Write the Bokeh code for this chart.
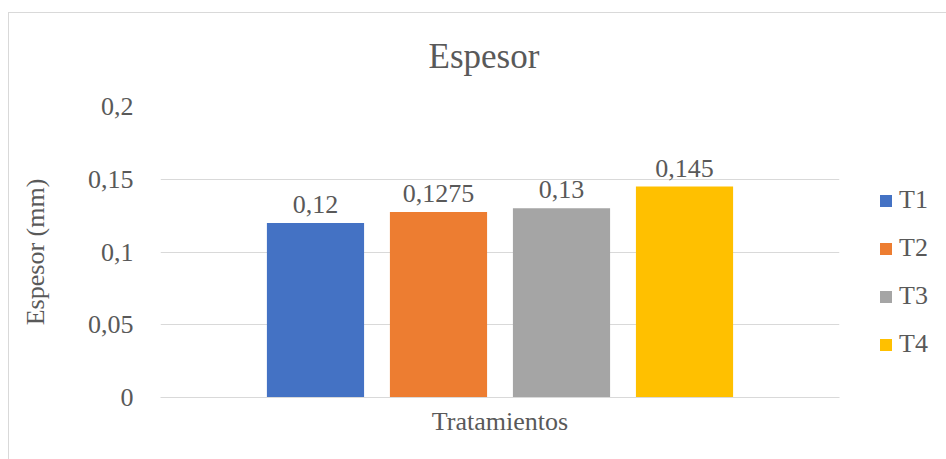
from bokeh.plotting import figure
from bokeh.models import (FactorRange, FixedTicker, Legend, LegendItem, LabelSet,
                          ColumnDataSource, Title)
from bokeh.embed import file_html
from bokeh.resources import INLINE

categories = ["T1", "T2", "T3", "T4"]
values = [0.12, 0.1275, 0.13, 0.145]
value_labels = ["0,12", "0,1275", "0,13", "0,145"]
colors = ["#4472C4", "#ED7D31", "#A5A5A5", "#FFC000"]
y_ticks = [0, 0.05, 0.1, 0.15, 0.2]
y_tick_labels = ["0", "0,05", "0,1", "0,15", "0,2"]
title_text = "Espesor"

FONT = "Liberation Serif"
TXT = "#595959"
GRID = "#d9d9d9"

src = ColumnDataSource(dict(cat=categories, val=values, lab=value_labels, color=colors))

p = figure(frame_width=679, frame_height=291, margin=(12, 0, 0, 8), title=None,
           x_range=FactorRange(*categories, range_padding=0.76, range_padding_units="absolute"),
           y_range=(0, 0.2),
           output_backend="svg", toolbar_location=None,
           min_border_left=151, min_border_right=107, min_border_top=93, min_border_bottom=62)
p.styles = {"border-top": "1px solid #d9d9d9", "border-left": "1px solid #d9d9d9"}

r = p.vbar(x="cat", top="val", width=0.79, fill_color="color", line_color=None, source=src)

labels = LabelSet(x="cat", y="val", text="lab", source=src, y_offset=10,
                  text_align="center", text_baseline="alphabetic",
                  text_font=FONT, text_font_size="26px", text_color=TXT)
p.add_layout(labels)

# title: blank spacer title next to the plot area, real title outside it
p.add_layout(Title(text=" ", text_font_size="1px", standoff=28), "above")
p.add_layout(Title(text=title_text, align="left", offset=268, standoff=0,
                   text_font=FONT, text_font_size="35px", text_font_style="normal",
                   text_color=TXT), "above")

# y axis
p.yaxis.ticker = FixedTicker(ticks=y_ticks)
p.yaxis.major_label_overrides = {t: l for t, l in zip(y_ticks, y_tick_labels)}
p.yaxis.axis_line_color = None
p.yaxis.major_tick_line_color = None
p.yaxis.minor_tick_line_color = None
p.yaxis.major_tick_out = 0
p.yaxis.major_label_standoff = 27
p.yaxis.major_label_text_font = FONT
p.yaxis.major_label_text_font_size = "26px"
p.yaxis.major_label_text_color = TXT
p.yaxis.axis_label = "Espesor (mm)"
p.yaxis.axis_label_text_font = FONT
p.yaxis.axis_label_text_font_size = "26px"
p.yaxis.axis_label_text_font_style = "normal"
p.yaxis.axis_label_text_color = TXT
p.yaxis.axis_label_standoff = 35

# x axis (no category tick labels, only the axis title)
p.xaxis.ticker = FixedTicker(ticks=[])
p.xaxis.axis_line_color = GRID
p.xaxis.axis_line_width = 1
p.xaxis.major_tick_line_color = None
p.xaxis.minor_tick_line_color = None
p.xaxis.major_tick_out = 0
p.xaxis.major_label_text_font_size = "0px"
p.xaxis.major_label_standoff = 0
p.xaxis.axis_label = "Tratamientos"
p.xaxis.axis_label_text_font = FONT
p.xaxis.axis_label_text_font_size = "26px"
p.xaxis.axis_label_text_font_style = "normal"
p.xaxis.axis_label_text_color = TXT
p.xaxis.axis_label_standoff = 9

p.xgrid.grid_line_color = None
p.ygrid.grid_line_color = GRID
p.ygrid.grid_line_width = 1
p.outline_line_color = None

legend = Legend(items=[LegendItem(label=c, renderers=[r], index=i) for i, c in enumerate(categories)],
                location=(39, 38), orientation="vertical",
                glyph_width=15, glyph_height=15, label_standoff=6, spacing=18,
                padding=0, margin=0, border_line_color=None, background_fill_alpha=0,
                label_text_font=FONT, label_text_font_size="26px", label_text_color=TXT)
p.add_layout(legend, "right")

open("out.html", "w").write(file_html(p, INLINE))
